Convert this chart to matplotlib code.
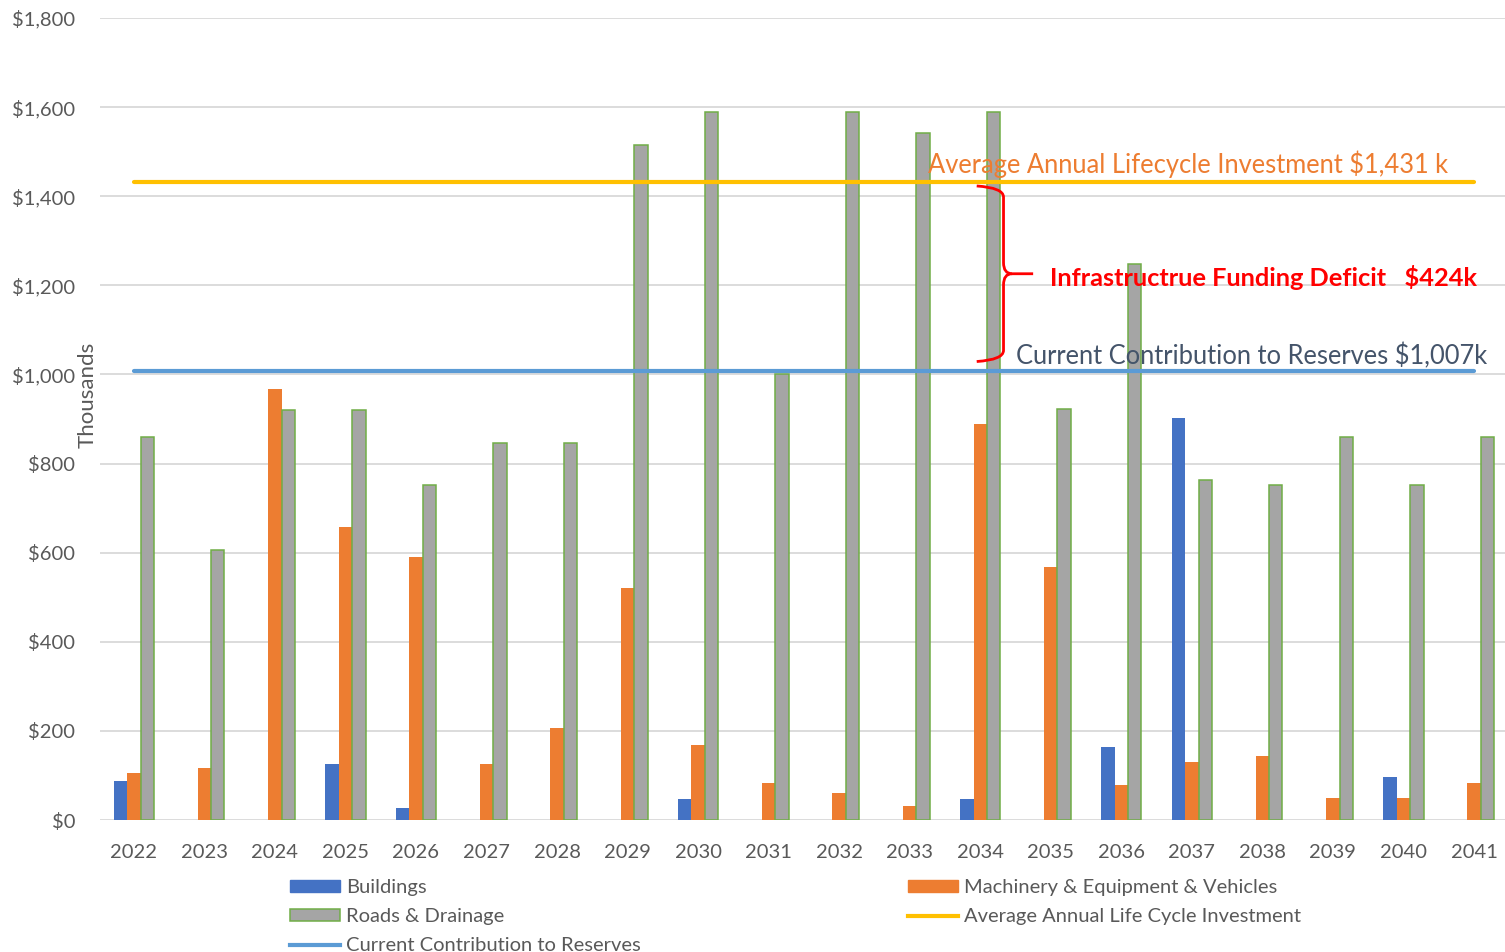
import numpy as np
import matplotlib
matplotlib.use('Agg')
from matplotlib import pyplot as plt
from matplotlib.patches import Patch, PathPatch
from matplotlib.lines import Line2D
from matplotlib.path import Path

plt.rcParams['font.family'] = ['Lato', 'DejaVu Sans']

# data in $ thousands
years = ['2022', '2023', '2024', '2025', '2026', '2027', '2028', '2029', '2030', '2031',
         '2032', '2033', '2034', '2035', '2036', '2037', '2038', '2039', '2040', '2041']
buildings = [88, 0, 0, 126, 27, 0, 0, 0, 47, 0, 0, 0, 47, 0, 164, 902, 0, 0, 96, 0]
machinery = [105, 117, 967, 657, 590, 126, 206, 521, 168, 83, 61, 31, 889, 568, 79, 130, 144, 49, 49, 83]
roads = [860, 606, 920, 920, 752, 846, 846, 1515, 1589, 1001, 1589, 1542, 1589, 922, 1248, 763, 752, 860, 752, 860]
avg_investment = 1431
current_contribution = 1007
deficit = 424

blue = '#4472C4'
orange = '#ED7D31'
gray = '#A5A5A5'
green = '#70AD47'
yellow = '#FFC000'
lightblue = '#5B9BD5'
txt = '#595959'

fig = plt.figure(figsize=(15.05, 9.52), dpi=100)
ax = fig.add_axes([100/1505, 132/952, 1405/1505, 802/952])

x = np.arange(len(years))
w = 0.19
ax.bar(x - w, buildings, w, color=blue, zorder=2)
ax.bar(x, machinery, w, color=orange, zorder=2)
ax.bar(x + w, roads, w, color=gray, edgecolor=green, linewidth=1.1, zorder=2)

ax.plot([0, 19], [avg_investment] * 2, color=yellow, lw=3, solid_capstyle='round', zorder=3)
ax.plot([0, 19], [current_contribution] * 2, color=lightblue, lw=3, solid_capstyle='round', zorder=3)

ax.set_xlim(-0.48, 19.44)
ax.set_ylim(0, 1800)
ax.set_yticks(range(0, 1801, 200))
ax.set_yticklabels(['$0'] + ['${:,}'.format(v) for v in range(200, 1801, 200)])
ax.set_xticks(x)
ax.set_xticklabels(years)
ax.tick_params(axis='both', length=0, colors=txt, labelsize=14.5)
ax.tick_params(axis='y', pad=18)
ax.tick_params(axis='x', pad=17)
ax.grid(axis='y', color='#D9D9D9', lw=1.3, zorder=0)
for s in ax.spines.values():
    s.set_visible(False)
ax.set_axisbelow(True)

fig.text(88/1505, 1 - 395/952, 'Thousands', rotation=90, ha='center', va='center',
         color=txt, fontsize=16)

# annotations
ax.text(11.26, avg_investment + 40, 'Average Annual Lifecycle Investment ${:,} k'.format(avg_investment),
        color=orange, fontsize=18.4, va='center', ha='left', zorder=4)
ax.text(12.99, current_contribution + 211, 'Infrastructrue Funding Deficit   ${}k'.format(deficit),
        color='#FF0000', fontsize=18.3, fontweight='bold', va='center', ha='left', zorder=4)
ax.text(12.51, current_contribution + 34, 'Current Contribution to Reserves ${:,}k'.format(current_contribution),
        color='#44546A', fontsize=18.4, va='center', ha='left', zorder=4)

# brace between the two lines
bx, bl, bt = 12.33, 11.95, 12.75
top = avg_investment - 8
bot = current_contribution + 22
mid = (top + bot) / 2
upper = Path([(bl, top), (bx, top - 4), (bx, top - 25),
              (bx, mid + 25), (bx, mid), (bx + 0.12, mid), (bt, mid)],
             [Path.MOVETO, Path.CURVE3, Path.CURVE3, Path.LINETO,
              Path.CURVE3, Path.CURVE3, Path.LINETO])
lower = Path([(bx + 0.12, mid), (bx, mid), (bx, mid - 25),
              (bx, bot + 25), (bx, bot + 4), (bl, bot)],
             [Path.MOVETO, Path.CURVE3, Path.CURVE3, Path.LINETO, Path.CURVE3, Path.CURVE3])
for p in (upper, lower):
    ax.add_patch(PathPatch(p, fill=False, edgecolor='#FF0000', lw=2, zorder=5))

# legend, two columns as separate legends
h1 = [Patch(facecolor=blue, edgecolor=blue), Patch(facecolor=gray, edgecolor=green, lw=1.1),
      Line2D([], [], color=lightblue, lw=3)]
l1 = ['Buildings', 'Roads & Drainage', 'Current Contribution to Reserves']
h2 = [Patch(facecolor=orange, edgecolor=orange), Line2D([], [], color=yellow, lw=3)]
l2 = ['Machinery & Equipment & Vehicles', 'Average Annual Life Cycle Investment']
kw = dict(loc='upper left', frameon=False, handlelength=2.5, handleheight=0.5, handletextpad=0.3,
          labelspacing=0.6, borderpad=0, borderaxespad=0, labelcolor=txt,
          prop={'size': 14.5})
leg1 = fig.legend(h1, l1, bbox_to_anchor=(290/1505, 1 - 879/952), **kw)
leg2 = fig.legend(h2, l2, bbox_to_anchor=(908/1505, 1 - 879/952), **kw)

fig.savefig('out.png', dpi=100)
